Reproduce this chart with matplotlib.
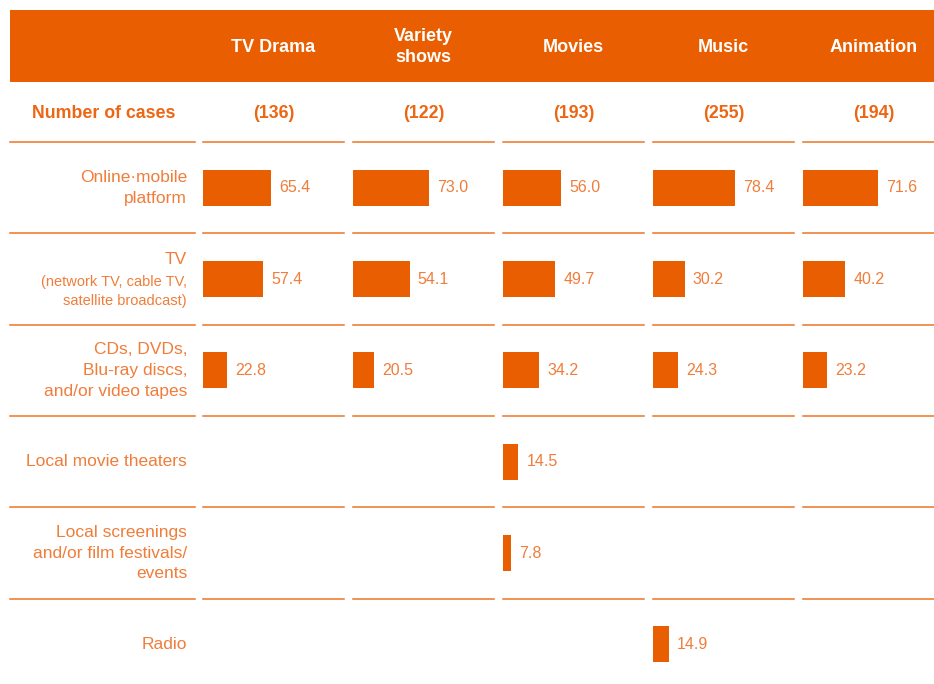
import matplotlib.pyplot as plt
from matplotlib.patches import Rectangle

plt.rcParams['font.family'] = ['Liberation Sans', 'DejaVu Sans']

genres = ["TV Drama", "Variety\nshows", "Movies", "Music", "Animation"]
cases = [136, 122, 193, 255, 194]
channels = ["Online·mobile\nplatform", "TV",
            "CDs, DVDs,\nBlu-ray discs,\nand/or video tapes",
            "Local movie theaters",
            "Local screenings\nand/or film festivals/\nevents", "Radio"]
channel_notes = ["", "(network TV, cable TV,\nsatellite broadcast)", "", "", "", ""]

# share (%) per genre, in channel order; None = not shown
tv_drama = [65.4, 57.4, 22.8, None, None, None]
variety = [73.0, 54.1, 20.5, None, None, None]
movies = [56.0, 49.7, 34.2, 14.5, 7.8, None]
music = [78.4, 30.2, 24.3, None, None, 14.9]
animation = [71.6, 40.2, 23.2, None, None, None]
series = [tv_drama, variety, movies, music, animation]

ORANGE = '#E95E00'
BOLD_TXT = '#EC6614'
LIGHT_TXT = '#F07D3A'
LINE = '#EE7426'

W, H = 934, 684
fig = plt.figure(figsize=(W / 100, H / 100), dpi=100)


def box(x0, y0, x1, y1):
    # pixel box (top-left origin) -> figure fraction rect
    return [x0 / W, 1 - y1 / H, (x1 - x0) / W, (y1 - y0) / H]


def fy(y):
    return 1 - y / H


# header band
fig.add_artist(Rectangle((10 / W, fy(82)), (W - 10) / W, 72 / H,
                         transform=fig.transFigure, color=ORANGE, lw=0))
fig.text(104 / W, fy(113), "Number of cases", color=BOLD_TXT, fontsize=12.8,
         fontweight='bold', ha='center', va='center')

n_rows = len(channels)
top, bottom = 142, 690

# left label column
lab = fig.add_axes(box(10, top, 195, bottom))
lab.set_ylim(n_rows, 0)
lab.axis('off')
tr = lab.get_yaxis_transform()
for r in range(n_rows):
    lab.axhline(r, color=LINE, lw=1.1, clip_on=False)
    if channel_notes[r]:
        lab.text(0.957, r + 0.285, channels[r], transform=tr,
                 ha='right', va='center', color=LIGHT_TXT, fontsize=12.5)
        lab.text(0.957, r + 0.64, channel_notes[r], transform=tr,
                 ha='right', va='center', color=LIGHT_TXT, fontsize=10.5,
                 linespacing=1.48)
    else:
        lab.text(0.957, r + 0.5, channels[r], transform=tr,
                 ha='right', va='center', color=LIGHT_TXT, fontsize=12.5,
                 linespacing=1.5)

for k, (g, n, vals) in enumerate(zip(genres, cases, series)):
    left = 203 + 150 * k
    ax = fig.add_axes(box(left, top, left + 141, bottom))
    ax.set_xlim(0, 135)
    ax.set_ylim(n_rows, 0)
    ax.axis('off')
    for r in range(n_rows):
        ax.axhline(r, color=LINE, lw=1.1, clip_on=False)
    rows = [r + 0.5 for r, v in enumerate(vals) if v is not None]
    vv = [v for v in vals if v is not None]
    ax.barh(rows, vv, height=0.395, color=ORANGE, lw=0)
    for y, v in zip(rows, vv):
        ax.annotate(f"{v:.1f}", (v, y), xytext=(6, 0), textcoords='offset points',
                    ha='left', va='center', color=LIGHT_TXT, fontsize=11.5)
    cx = (left + 70.5) / W
    fig.text(cx, fy(47), g, color='white', fontsize=13, fontweight='bold',
             ha='center', va='center', linespacing=1.27)
    fig.text(cx, fy(113), f"({n})", color=BOLD_TXT, fontsize=12.8,
             fontweight='bold', ha='center', va='center')

fig.savefig('out.png', dpi=100)
